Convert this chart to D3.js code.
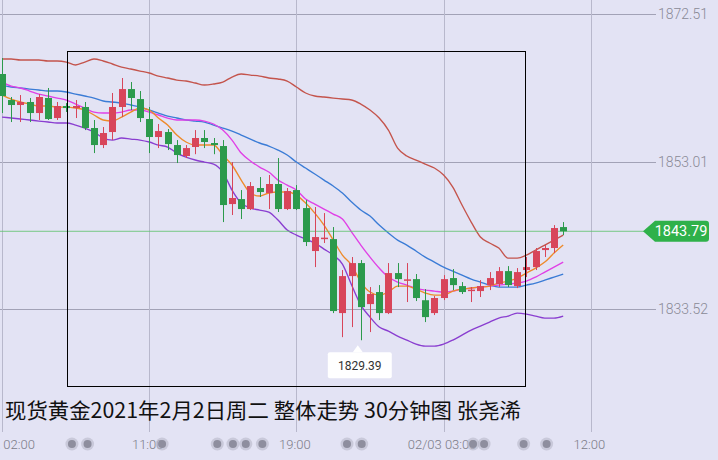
<!DOCTYPE html>
<html><head><meta charset="utf-8">
<script src="https://cdn.jsdelivr.net/npm/d3@7"></script>
<style>html,body{margin:0;padding:0;background:#e3e3f4;overflow:hidden}</style>
</head><body><svg id="c" width="718" height="460"></svg>
<script>
// ---- data ----
const opens  = [1864.58,1861.14,1860.48,1860.88,1859.42,1861.41,1858.76,1860.35,1860.08,1860.22,1857.44,1855.19,1856.91,1860.22,1862.59,1861.27,1858.63,1856.25,1856.91,1855.19,1853.74,1854.93,1856.12,1855.46,1855.06,1847.39,1848.05,1846.73,1849.51,1848.85,1850.04,1846.73,1849.24,1846.86,1841.18,1842.90,1842.76,1832.98,1837.87,1839.59,1834.17,1835.76,1832.98,1838.27,1837.34,1837.47,1834.68,1832.98,1834.97,1837.61,1836.55,1836.02,1835.89,1836.68,1836.81,1838.53,1836.55,1838.67,1839.06,1841.31,1841.58,1844.35];
const highs  = [1866.69,1861.54,1861.80,1861.41,1861.93,1862.73,1860.88,1860.74,1861.14,1860.88,1858.50,1857.57,1862.07,1864.05,1863.52,1862.33,1860.22,1857.97,1857.31,1855.85,1855.19,1857.17,1857.17,1856.12,1855.85,1852.94,1849.24,1850.30,1850.96,1851.23,1853.47,1849.51,1849.90,1847.92,1847.00,1846.20,1844.35,1838.67,1840.39,1839.99,1836.42,1836.68,1839.59,1839.59,1839.59,1838.14,1836.15,1835.23,1838.00,1838.80,1837.08,1836.42,1837.34,1838.40,1839.06,1839.19,1838.93,1840.39,1841.58,1841.97,1844.61,1845.01];
const lows   = [1859.42,1858.23,1858.23,1858.23,1858.50,1858.50,1858.50,1859.56,1858.76,1857.17,1854.13,1854.79,1855.85,1858.89,1859.82,1858.23,1854.13,1854.79,1854.53,1852.81,1853.47,1853.98,1854.79,1853.98,1845.01,1845.94,1845.41,1846.60,1848.32,1846.73,1846.34,1846.60,1846.60,1841.84,1839.06,1842.24,1832.98,1829.80,1831.13,1829.39,1830.47,1832.06,1832.85,1836.42,1834.44,1834.57,1831.79,1832.72,1834.70,1836.02,1835.50,1834.44,1835.10,1836.02,1836.42,1836.42,1836.28,1837.74,1838.67,1840.39,1840.91,1843.29];
const closes = [1861.67,1860.48,1860.88,1859.42,1861.54,1858.63,1860.35,1860.08,1860.35,1857.44,1855.19,1856.78,1860.22,1862.59,1861.41,1858.76,1856.25,1857.04,1855.32,1853.87,1854.79,1856.12,1855.59,1855.19,1847.26,1848.19,1846.73,1849.77,1848.98,1850.04,1846.73,1849.11,1846.73,1842.37,1843.03,1842.95,1833.25,1837.87,1839.59,1833.77,1835.50,1832.98,1838.27,1837.47,1837.44,1834.97,1832.45,1834.97,1837.47,1836.68,1835.76,1836.08,1836.55,1837.61,1838.53,1836.68,1838.40,1839.06,1841.18,1841.58,1844.22,1843.79];
const bbUpper = [1866.56,1866.56,1866.43,1866.43,1866.43,1866.30,1866.30,1866.16,1865.77,1866.16,1866.56,1866.30,1865.90,1865.50,1865.24,1864.97,1864.71,1864.31,1864.05,1863.78,1863.65,1863.39,1863.12,1863.26,1863.52,1864.18,1864.58,1864.44,1864.31,1864.05,1863.92,1863.65,1862.86,1862.07,1861.67,1861.54,1861.40,1861.27,1861.14,1860.61,1859.82,1858.76,1857.17,1854.79,1853.74,1853.21,1852.68,1852.15,1851.22,1849.64,1847.26,1845.01,1843.03,1842.24,1841.57,1840.25,1840.25,1840.65,1841.31,1841.97,1842.63,1843.29];
const bbMid = [1863.12,1862.86,1862.73,1862.59,1862.46,1862.33,1862.33,1862.20,1861.93,1861.67,1861.40,1861.01,1860.88,1860.74,1860.48,1860.21,1859.82,1859.42,1859.02,1858.76,1858.50,1858.36,1858.23,1857.83,1857.44,1857.04,1856.51,1855.98,1855.46,1855.06,1854.53,1853.87,1852.94,1852.15,1851.36,1850.56,1849.77,1848.85,1847.66,1846.60,1845.80,1844.61,1843.56,1842.63,1841.97,1841.18,1840.38,1839.72,1839.06,1838.53,1838.00,1837.48,1837.08,1836.68,1836.42,1836.42,1836.42,1836.68,1836.95,1837.34,1837.74,1838.14];
const bbLower = [1858.89,1858.76,1858.63,1858.50,1858.36,1858.23,1858.10,1858.10,1857.83,1857.44,1856.91,1856.12,1855.85,1856.12,1855.98,1855.85,1855.59,1855.19,1854.93,1854.13,1853.60,1853.21,1852.94,1852.68,1851.62,1849.24,1847.52,1846.86,1846.60,1846.33,1845.28,1843.95,1843.29,1842.76,1842.24,1841.44,1840.65,1839.46,1836.68,1834.04,1832.45,1831.13,1830.60,1829.94,1829.41,1828.88,1828.62,1828.62,1828.88,1829.41,1830.07,1830.73,1831.26,1831.79,1832.32,1832.58,1832.98,1832.85,1832.58,1832.32,1832.32,1832.58];
const ma5 = [1861.80,1861.27,1860.88,1860.61,1860.35,1860.35,1860.21,1860.21,1860.08,1859.82,1859.16,1858.50,1858.36,1858.89,1859.55,1860.08,1859.82,1858.76,1857.83,1856.51,1855.59,1855.19,1855.19,1855.19,1853.87,1852.55,1850.56,1848.85,1848.45,1848.85,1848.98,1848.98,1848.58,1847.52,1846.20,1844.61,1842.63,1840.65,1839.33,1837.08,1835.76,1835.36,1835.76,1836.55,1836.55,1836.15,1835.63,1835.36,1835.36,1835.89,1836.15,1836.29,1836.42,1836.55,1836.95,1837.21,1837.61,1838.27,1838.93,1839.72,1840.91,1841.97];
const ma10 = [1863.52,1862.99,1862.73,1862.33,1861.93,1861.67,1861.40,1861.14,1860.61,1860.08,1859.55,1859.42,1859.42,1859.55,1859.82,1859.82,1859.55,1859.16,1858.76,1858.50,1858.50,1858.50,1858.36,1857.97,1857.17,1855.85,1854.13,1853.08,1852.28,1851.62,1850.56,1849.90,1849.24,1848.05,1847.39,1846.73,1846.07,1845.41,1843.69,1841.97,1840.38,1838.93,1837.74,1837.08,1836.68,1836.29,1836.02,1835.89,1835.76,1835.89,1836.15,1836.29,1836.42,1836.55,1836.68,1836.82,1836.95,1837.21,1837.74,1838.40,1839.06,1839.72];
const priceTicks = [1833.52, 1853.01, 1872.51];
const timeTickIdx = [0, 16, 32, 48, 64];
const timeTickLabels = ["02/02 02:00", "11:00", "19:00", "02/03 03:00", "12:00"];
const eventIdx = [7.6, 9.3, 17.4, 23.4, 25.1, 26.5, 28.3, 37.5, 39.1, 51.2, 52.4, 56.7, 59.2];
const lastPrice = 1843.79;
const lowPrice = 1829.39, lowIdx = 39;
const title = "现货黄金2021年2月2日周二 整体走势 30分钟图 张尧浠";

// ---- scales ----
const W = 718, H = 460;
const svg = d3.select("#c");
const x = d3.scaleLinear().domain([0, 61]).range([2, 563.2]);
const y = d3.scaleLinear().domain([1833.52, 1872.51]).range([309, 14]);
const idx = d3.range(opens.length);

svg.append("rect").attr("width", W).attr("height", H).attr("fill", "#e3e3f4");

// grid
const gy = svg.append("g");
gy.selectAll("line").data(priceTicks).join("line")
  .attr("x1", 0).attr("x2", 656).attr("y1", d => Math.round(y(d)) + 0.5).attr("y2", d => Math.round(y(d)) + 0.5)
  .attr("stroke", "#a2a2b6").attr("stroke-width", 1);
const gx = svg.append("g");
gx.selectAll("line").data(timeTickIdx).join("line")
  .attr("x1", d => Math.round(x(d)) + 0.5).attr("x2", d => Math.round(x(d)) + 0.5).attr("y1", 0).attr("y2", 432)
  .attr("stroke", "#b8b8cc").attr("stroke-width", 1);

// y axis labels (right)
const yAxis = d3.axisRight(y).tickValues(priceTicks).tickSize(0).tickPadding(0).tickFormat(d3.format(".2f"));
const ya = svg.append("g").attr("transform", "translate(683,0)").call(yAxis);
ya.select(".domain").remove();
ya.selectAll("text").attr("text-anchor", "middle").attr("fill", "#8a8a96")
  .style("font-family", "Roboto, 'Liberation Sans', sans-serif").style("font-size", "14px").style("font-weight", 300);

// x axis labels
const xAxis = d3.axisBottom(x).tickValues(timeTickIdx).tickSize(0).tickPadding(0).tickFormat((d, i) => timeTickLabels[i]);
const xa = svg.append("g").attr("transform", "translate(-2,440)").call(xAxis);
xa.select(".domain").remove();
xa.selectAll("text").attr("fill", "#7c7c88")
  .style("font-family", "Roboto, 'Liberation Sans', sans-serif").style("font-size", "13px").style("font-weight", 300);

// lines
const mk = arr => d3.line().x((d, i) => x(i)).y(d => y(d)).curve(d3.curveMonotoneX);
const lineSpec = [
  [bbUpper, "#c4544c"], [bbMid, "#3b7cd6"], [bbLower, "#8a3ed0"], [ma10, "#e040e6"], [ma5, "#ee8a2a"]
];
lineSpec.forEach(([arr, col]) => {
  svg.append("path").datum(arr).attr("d", mk(arr)).attr("fill", "none").attr("stroke", col).attr("stroke-width", 1.35);
});

// last price line
svg.append("line").attr("x1", 0).attr("x2", 644).attr("y1", y(lastPrice)).attr("y2", y(lastPrice))
  .attr("stroke", "#5cc46a").attr("stroke-width", 1).attr("opacity", 0.8);

// candles
const up = i => closes[i] >= opens[i];
const col = i => up(i) ? "#d8455a" : "#2c9a4c";
const cg = svg.append("g");
cg.selectAll("line").data(idx).join("line")
  .attr("x1", i => Math.round(x(i)) + 0.5).attr("x2", i => Math.round(x(i)) + 0.5)
  .attr("y1", i => y(highs[i])).attr("y2", i => y(lows[i]))
  .attr("stroke", col).attr("stroke-width", 1);
cg.selectAll("rect").data(idx).join("rect")
  .attr("x", i => Math.round(x(i)) - 3).attr("width", 7)
  .attr("y", i => y(Math.max(opens[i], closes[i])))
  .attr("height", i => Math.max(1.5, Math.abs(y(opens[i]) - y(closes[i]))))
  .attr("fill", col);

// black frame
svg.append("rect").attr("x", 67.5).attr("y", 51.5).attr("width", 458).attr("height", 335)
  .attr("fill", "none").attr("stroke", "#000").attr("stroke-width", 1);

// low label
const lx = x(lowIdx) - 3, ly = y(lowPrice);
const lg = svg.append("g");
lg.append("path").attr("d", `M${lx - 5},${ly + 12} L${lx},${ly + 5} L${lx + 5},${ly + 12} Z`).attr("fill", "#fff");
lg.append("rect").attr("x", lx - 30).attr("y", ly + 12).attr("width", 64).attr("height", 26).attr("rx", 2).attr("fill", "#fff");
lg.append("text").attr("x", lx + 2).attr("y", ly + 30).attr("text-anchor", "middle")
  .style("font-family", "Roboto, 'Liberation Sans', sans-serif").style("font-size", "12px").attr("fill", "#333")
  .text(lowPrice.toFixed(2));

// last price tag
const py = y(lastPrice);
svg.append("path").attr("d", `M643,${py} L655,${py - 10.5} L706,${py - 10.5} Q709,${py - 10.5} 709,${py - 7.5} L709,${py + 7.5} Q709,${py + 10.5} 706,${py + 10.5} L655,${py + 10.5} Z`)
  .attr("fill", "#2fb14a");
svg.append("text").attr("x", 681).attr("y", py + 5).attr("text-anchor", "middle").attr("fill", "#fff")
  .style("font-family", "Roboto, 'Liberation Sans', sans-serif").style("font-size", "14.5px")
  .text(lastPrice.toFixed(2));

// event dots
const eg = svg.append("g");
eventIdx.forEach(e => {
  eg.append("circle").attr("cx", x(e)).attr("cy", 444).attr("r", 6.5).attr("fill", "#b8b8c8").attr("opacity", 0.6);
  eg.append("circle").attr("cx", x(e)).attr("cy", 444).attr("r", 4).attr("fill", "#8e8e9e");
});

// title
svg.append("text").attr("x", 5).attr("y", 418).attr("fill", "#111")
  .attr("textLength", 516).attr("lengthAdjust", "spacingAndGlyphs")
  .style("font-family", "'Noto Sans CJK SC', sans-serif").style("font-size", "21px")
  .text(title);
</script></body></html>
